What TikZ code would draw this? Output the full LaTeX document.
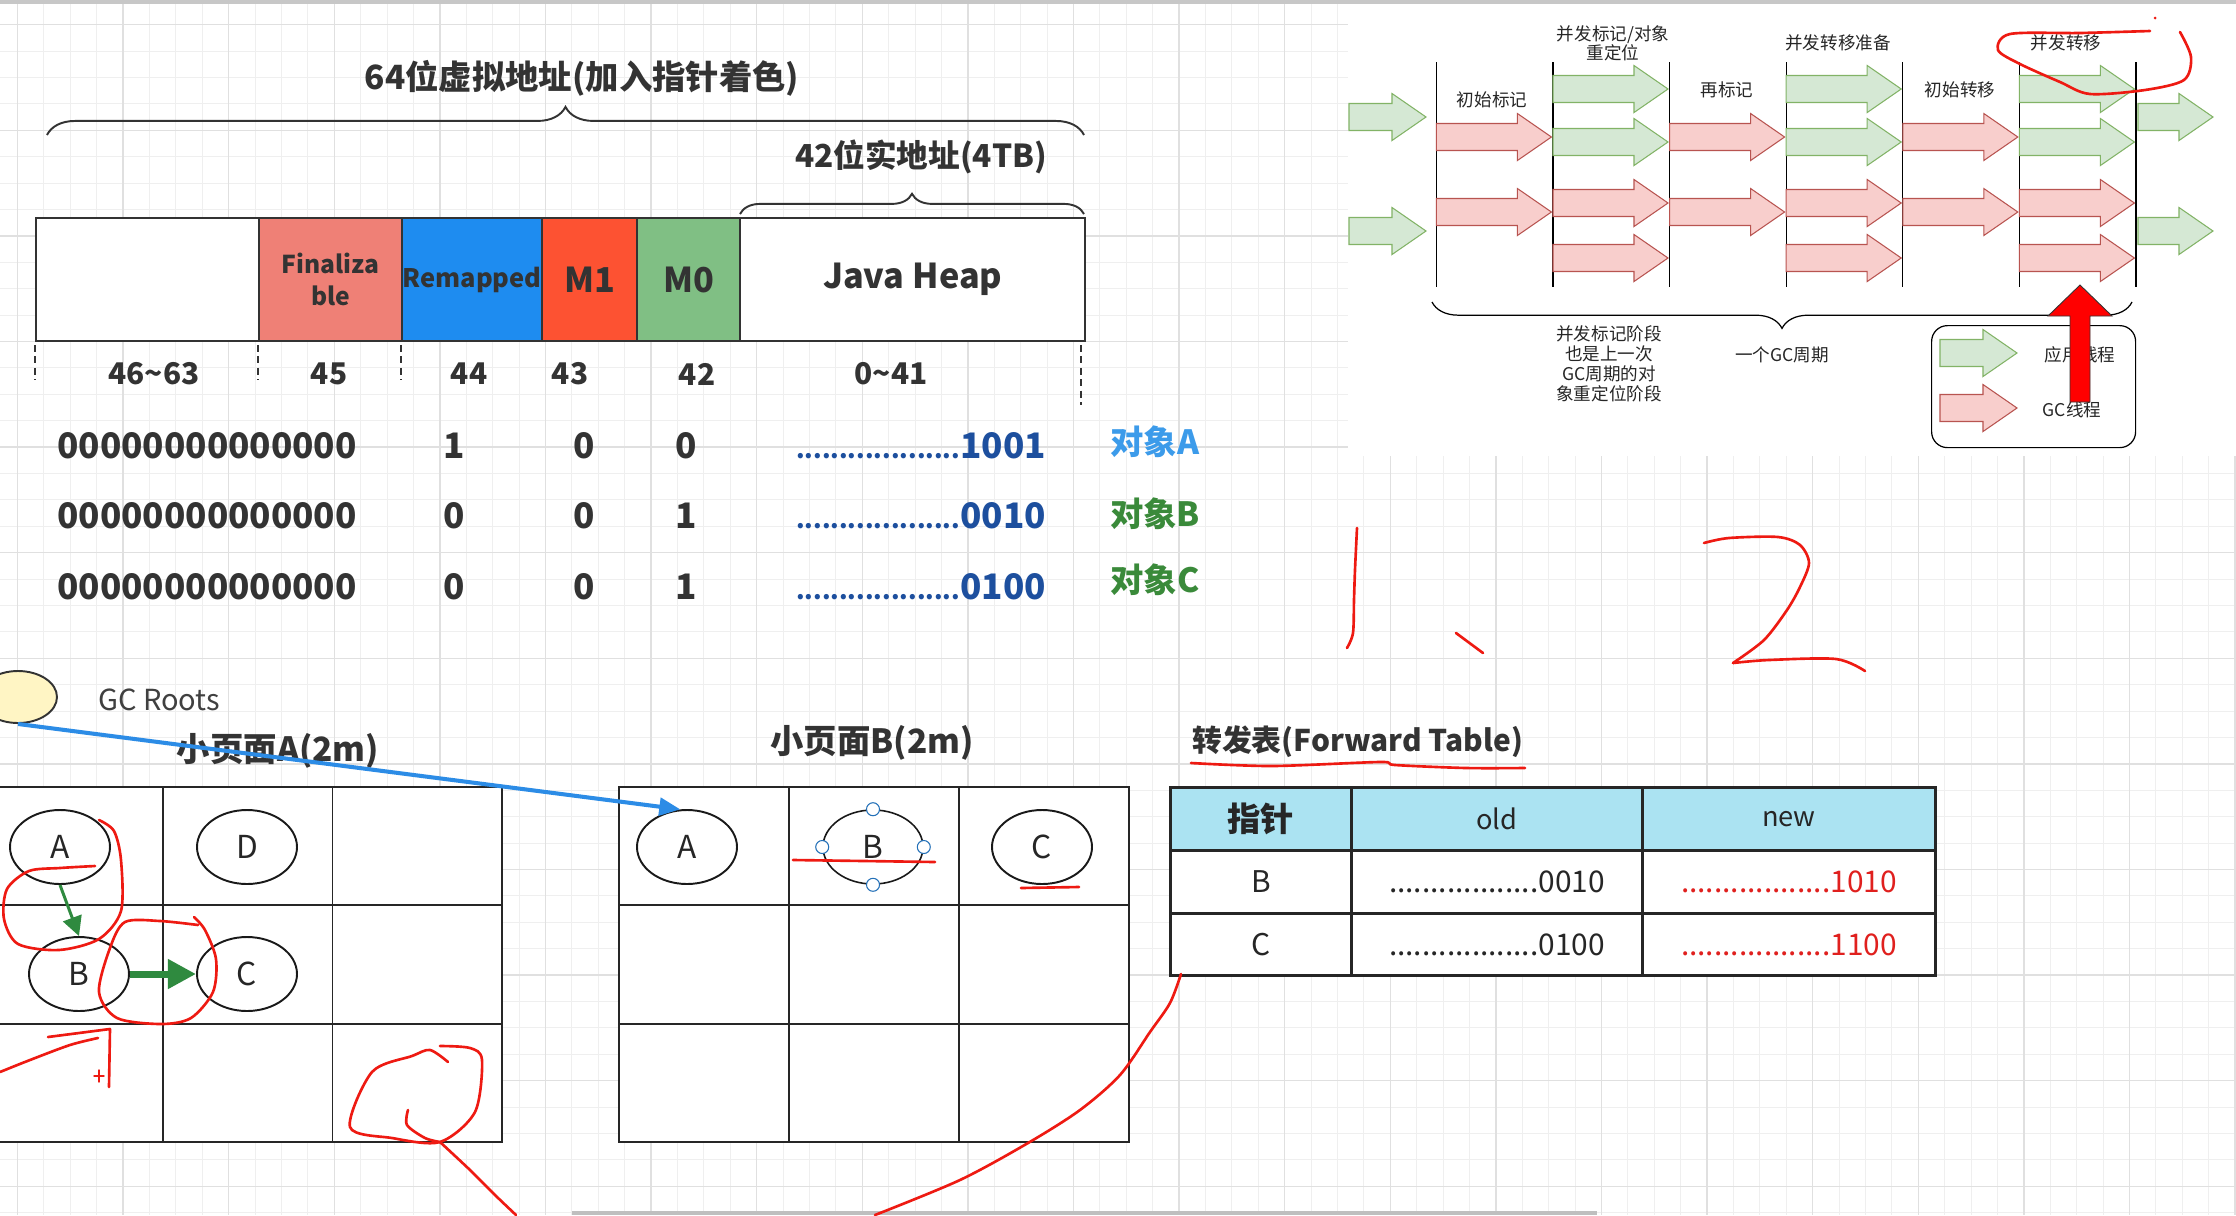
\documentclass[tikz,border=0pt]{standalone}
\usepackage{fontspec}
\setmainfont{Noto Sans CJK SC}
\usetikzlibrary{shapes.geometric,arrows.meta,decorations.pathreplacing}
\newcommand{\pix}{0.02cm}
\newcommand{\fsz}[1]{\fontsize{#1}{#1}\selectfont}
% block arrow: style, x, y, length
\newcommand{\blockarr}[4]{\draw[#1] (#2,#3) ++(0,-13.5) -- ++({#4-34},0) -- ++(0,-10) -- ++(34,23.5) -- ++(-34,23.5) -- ++(0,-10) -- ++({34-#4},0) -- cycle;}
\newcommand{\leader}{{\fsz{14pt}...................}}
\definecolor{inkdark}{HTML}{333333}
\definecolor{finc}{HTML}{EF8076}
\definecolor{remapc}{HTML}{1E8CF0}
\definecolor{monec}{HTML}{FD5232}
\definecolor{mzeroc}{HTML}{80BF84}
\definecolor{addrblue}{HTML}{1D4F9E}
\definecolor{objblue}{HTML}{3C9BEA}
\definecolor{objgreen}{HTML}{3A8A3A}
\definecolor{rootfill}{HTML}{FFF5C4}
\definecolor{refblue}{HTML}{2C8CE6}
\definecolor{refgreen}{HTML}{2F8A3F}
\definecolor{headfill}{HTML}{ABE3F2}
\definecolor{newred}{HTML}{E0201E}
\definecolor{inkred}{HTML}{EE1A12}
\definecolor{appfill}{HTML}{D5E8D4}
\definecolor{appline}{HTML}{82B366}
\definecolor{gcfill}{HTML}{F8CECC}
\definecolor{gcline}{HTML}{B85450}
\definecolor{gridminc}{HTML}{EFEFEF}
\definecolor{gridmajc}{HTML}{E0E0E0}

\begin{document}
\begin{tikzpicture}[x=0.02cm, y=-0.02cm,
  gridmin/.style={draw=gridminc, line width=0.5pt},
  gridmaj/.style={draw=gridmajc, line width=0.8pt},
  headline/.style={text=inkdark, font=\fsz{19pt}\bfseries},
  bigbrace/.style={decorate, decoration={brace, amplitude=#1}, draw=inkdark, line width=1.1pt},
  field/.style={draw=inkdark, fill=white, line width=1.4pt, anchor=north west, minimum height=123*\pix, inner sep=0pt, text=inkdark, font=\fsz{19.5pt}\bfseries},
  bittick/.style={draw=black!80, line width=0.9pt, dash pattern=on 4pt off 2.5pt},
  bitno/.style={text=inkdark, font=\fsz{17pt}\bfseries},
  bitval/.style={text=inkdark, font=\fsz{20pt}\bfseries},
  addr/.style={text=addrblue, font=\fsz{20pt}\bfseries, anchor=east},
  objtag/.style={font=\fsz{19pt}\bfseries},
  pagettl/.style={text=inkdark, font=\fsz{19pt}\bfseries},
  cell/.style={draw=black!85, fill=white, line width=1.1pt, minimum width=169.6*\pix, minimum height=118.3*\pix, inner sep=0pt},
  ring/.style={ellipse, draw=black!90, fill=white, line width=1.1pt, minimum width=100*\pix, minimum height=74*\pix, inner sep=0pt, text=black!85, font=\fsz{18pt}},
  handle/.style={circle, draw=refblue!80!black, fill=white, line width=0.6pt, minimum size=13*\pix, inner sep=0pt},
  refarrow/.style={draw=refblue, line width=2.3pt, -{Triangle[length=12pt,width=10pt]}},
  greenarr/.style={draw=refgreen, -{Triangle[length=#1,width=#1]}},
  ftcell/.style={draw=black!85, fill=white, line width=1.6pt, anchor=north west, minimum height=63*\pix, inner sep=0pt, text=black!85, font=\fsz{17pt}},
  phase/.style={text=black!85, font=\fsz{10pt}},
  app/.style={draw=appline, fill=appfill, line width=0.6pt},
  gc/.style={draw=gcline, fill=gcfill, line width=0.6pt},
  ink/.style={draw=inkred, line width=1.5pt, line cap=round, line join=round}]

  \useasboundingbox (0,0) rectangle (2236,1215);
  \clip (0,0) rectangle (2236,1215);
  \fill[white] (0,0) rectangle (2236,1215);

  % background grid
  \foreach \k in {0,...,84} \draw[gridmin] ({17.5+26.4*\k},0) -- ++(0,1215);
  \foreach \k in {0,...,45} \draw[gridmin] (0,{24.6+26.4*\k}) -- ++(2236,0);
  \foreach \k in {0,...,21} \draw[gridmaj] ({17.5+105.6*\k},0) -- ++(0,1215);
  \foreach \k in {0,...,11} \draw[gridmaj] (0,{24.6+105.6*\k}) -- ++(2236,0);
  \fill[white] (1348,0) rectangle (2236,456);
  \fill[black!22] (0,0) rectangle (2236,4);
  \fill[black!25] (572,1211) rectangle (1597,1215);

  % 64 bit pointer layout
  \node[headline] (title64) at (582,78) {64位虚拟地址(加入指针着色)};
  \draw[bigbrace=16pt] (47,135) -- (1084,135);
  \node[headline, font=\fsz{18pt}\bfseries] (title42) at (921,157) {42位实地址(4TB)};
  \draw[bigbrace=11.5pt] (740,214) -- (1084,214);

  \node[field, minimum width=223*\pix] (f-high) at (35,217) {};
  \node[field, fill=finc, minimum width=143*\pix, align=center, font=\fontsize{14pt}{18pt}\selectfont\bfseries] (f-fin) at (258,217) {Finaliza\\ble};
  \node[field, fill=remapc, minimum width=140*\pix, font=\fsz{14.5pt}\bfseries] (f-remap) at (401,217) {Remapped};
  \node[field, fill=monec, minimum width=95*\pix] (f-m1) at (541,217) {M1};
  \node[field, fill=mzeroc, minimum width=103*\pix] (f-m0) at (636,217) {M0};
  \node[field, minimum width=345*\pix] (f-heap) at (739,217) {Java Heap};

  \draw[bittick] (35,345) -- (35,380);
  \draw[bittick] (258,345) -- (258,380);
  \draw[bittick] (401,345) -- (401,380);
  \draw[bittick] (1081,345) -- (1081,405);

  \node[bitno] (n-high) at (154,374) {46\textasciitilde 63};
  \node[bitno] (n-45) at (329,374) {45};
  \node[bitno] (n-44) at (469,374) {44};
  \node[bitno] (n-43) at (570,374) {43};
  \node[bitno] (n-42) at (697,374) {42};
  \node[bitno] (n-low) at (891,374) {0\textasciitilde 41};

  \foreach \y/\bitA/\bitB/\bitC/\v/\o/\tagc/\ty in {446/1/0/0/1001/A/objblue/442, 516/0/0/1/0010/B/objgreen/514, 587/0/0/1/0100/C/objgreen/580} {
    \node[bitval] (zeros-\o) at (207,\y) {00000000000000};
    \node[bitval] (b44-\o) at (454,\y) {\bitA};
    \node[bitval] (b43-\o) at (584,\y) {\bitB};
    \node[bitval] (b42-\o) at (686,\y) {\bitC};
    \node[addr] (addr-\o) at (1052,\y) {\leader\v};
    \node[objtag, text=\tagc] (tag-\o) at (1155,\ty) {对象\o};
  }

  % GC roots and small pages
  \node[ellipse, draw=inkdark, fill=rootfill, line width=1.1pt, minimum width=78*\pix, minimum height=52*\pix] (gcroot) at (18,697) {};
  \node[anchor=west, text=black!75, font=\fsz{16.5pt}] (gcroot-lbl) at (92,700) {GC Roots};
  \node[pagettl] (pa-ttl) at (278,751) {小页面A(2m)};
  \node[pagettl] (pb-ttl) at (872,743) {小页面B(2m)};

  \foreach \row in {0,1,2} \foreach \col in {0,1,2} {
    \node[cell] (pa-\row-\col) at ({78.7+169.3*\col},{846.2+118.3*\row}) {};
    \node[cell] (pb-\row-\col) at ({704+169.9*\col},{846.2+118.3*\row}) {};
  }

  \node[ring] (pa-A) at (60,847) {A};
  \node[ring] (pa-D) at (247,847) {D};
  \node[ring] (pa-B) at (79,974) {B};
  \node[ring] (pa-C) at (247,974) {C};
  \node[ring] (pb-A) at (687,847) {A};
  \node[ring, line width=0.9pt] (pb-B) at (873,847) {B};
  \node[ring] (pb-C) at (1042,847) {C};
  \foreach \a in {north,south,east,west} \node[handle] (pb-B-\a) at (pb-B.\a) {};

  \draw[greenarr=11pt, line width=1.7pt] (pa-A.south) -- (pa-B.north);
  \draw[greenarr=16pt, line width=4pt] (pa-B.east) -- (pa-C.west);
  \draw[refarrow] (gcroot.south) -- (pb-A.100);

  % forward table
  \node[anchor=west, text=inkdark, font=\fsz{17pt}\bfseries] (ft-ttl) at (1186,742) {转发表(Forward Table)};
  \node[ftcell, fill=headfill, minimum width=181*\pix, font=\fsz{19pt}\bfseries] (ft-0-0) at (1169,786) {指针};
  \node[ftcell, fill=headfill, minimum width=291*\pix, font=\fsz{15.5pt}] (ft-0-1) at (1350,786) {old};
  \node[ftcell, fill=headfill, minimum width=293*\pix, font=\fsz{15.5pt}] (ft-0-2) at (1641,786) {new};
  \node[ftcell, minimum width=181*\pix] (ft-1-0) at (1169,849) {B};
  \node[ftcell, minimum width=291*\pix] (ft-1-1) at (1350,849) {..................0010};
  \node[ftcell, minimum width=293*\pix, text=newred] (ft-1-2) at (1641,849) {..................1010};
  \node[ftcell, minimum width=181*\pix, minimum height=62*\pix] (ft-2-0) at (1169,912) {C};
  \node[ftcell, minimum width=291*\pix, minimum height=62*\pix] (ft-2-1) at (1350,912) {..................0100};
  \node[ftcell, minimum width=293*\pix, minimum height=62*\pix, text=newred] (ft-2-2) at (1641,912) {..................1100};

  % GC phases
  \foreach \x in {1436.4,1553,1669.6,1786.2,1902.8,2019.4,2136} \draw[black, line width=0.6pt] (\x,62) -- (\x,287);
  \blockarr{app}{1349}{117}{77}
  \blockarr{app}{1349}{231}{77}
  \foreach \x in {1436.4,1669.6,1902.8} {\blockarr{gc}{\x}{137}{115} \blockarr{gc}{\x}{212}{115}}
  \foreach \x in {1553,1786.2,2019.4} {\blockarr{app}{\x}{89}{115} \blockarr{app}{\x}{142}{115} \blockarr{gc}{\x}{203}{115} \blockarr{gc}{\x}{258}{115}}
  \blockarr{app}{2138}{117}{75}
  \blockarr{app}{2138}{231}{75}

  \node[phase] (ph-1) at (1492,100) {初始标记};
  \node[phase, align=center, font=\fontsize{10pt}{11pt}\selectfont] (ph-2) at (1613,43) {并发标记/对象\\重定位};
  \node[phase] (ph-3) at (1727,90) {再标记};
  \node[phase] (ph-4) at (1838,43) {并发转移准备};
  \node[phase] (ph-5) at (1960,90) {初始转移};
  \node[phase] (ph-6) at (2066,43) {并发转移};

  \draw[bigbrace=15pt, draw=black, line width=0.7pt] (2132,302) -- (1432,302);
  \node[phase, align=center, font=\fontsize{10pt}{11.4pt}\selectfont] (ph-note) at (1609,364) {并发标记阶段\\也是上一次\\GC周期的对\\象重定位阶段};
  \node[phase] (ph-cycle) at (1782,355) {一个GC周期};

  \node[draw=black, line width=0.7pt, rounded corners=9pt, anchor=north west, minimum width=204*\pix, minimum height=122*\pix] (legend) at (1931,325) {};
  \blockarr{app}{1940}{353}{77}
  \blockarr{gc}{1940}{408}{77}
  \node[phase] (lg-app) at (2080,355) {应用线程};
  \node[phase] (lg-gc) at (2072,410) {GC线程};
  \draw[fill=red, draw=black!80, line width=0.5pt] (2070,402) -- (2070,316) -- (2048,316) -- (2080,285) -- (2112,316) -- (2090,316) -- (2090,402) -- cycle;

  % red pen marks
  \draw[ink] plot[smooth] coordinates {(2150,31) (2080,33) (2010,34) (1998,50) (2020,64) (2060,82) (2090,94) (2145,90) (2184,80) (2191,57) (2180,32)};
  \fill[inkred] (2155,18) circle (1.5);
  \draw[ink] plot[smooth] coordinates {(1357,528) (1355,570) (1354,600) (1353,633) (1347,648)};
  \draw[ink] (1456,633) -- (1483,653);
  \draw[ink] plot[smooth] coordinates {(1704,543) (1729,538) (1778,537) (1800,545) (1809,563) (1800,587) (1787,610) (1764,640) (1733,663)};
  \draw[ink] plot[smooth] coordinates {(1733,663) (1769,660) (1836,659) (1865,671)};
  \draw[ink] plot[smooth] coordinates {(1191,763) (1272,766) (1380,762) (1395,765) (1466,768) (1525,768)};
  \draw[ink] plot[smooth] coordinates {(1181,974) (1170,1003) (1150,1032) (1120,1075) (1080,1110) (1028,1143) (960,1180) (875,1215)};
  \draw[ink] plot[smooth] coordinates {(448,1062) (430,1050) (412,1056) (372,1072) (350,1127) (392,1138) (440,1142) (475,1112) (482,1060) (470,1048) (440,1046)};
  \draw[ink] plot[smooth] coordinates {(408,1110) (407,1125) (425,1138) (440,1142)};
  \draw[ink] plot[smooth] coordinates {(440,1142) (470,1170) (495,1195) (516,1215)};
  \draw[ink] plot[smooth] coordinates {(95,866) (60,868) (29,871) (7,889) (4,919) (18,944) (59,950) (99,939) (121,911) (121,860) (114,831) (99,820)};
  \draw[ink] plot[smooth] coordinates {(198,925) (160,921) (125,922) (110,948) (99,992) (117,1018) (161,1024) (191,1018) (213,992) (216,959) (205,930) (194,917)};
  \draw[ink] plot[smooth] coordinates {(0,1072) (30,1060) (70,1045) (98,1038)};
  \draw[ink] (48,1037) -- (110,1029) -- (109,1087);
  \draw[ink, line width=0.8pt] (94,1076) -- (104,1076) (99,1070) -- (99,1082);
  \draw[ink] (793,860) -- (935,862);
  \draw[ink] (1021,888) -- (1079,887);
\end{tikzpicture}
\end{document}
